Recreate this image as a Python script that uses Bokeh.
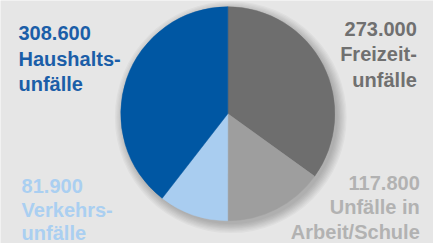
import numpy as np
from bokeh.plotting import figure
from bokeh.models import Range1d, ColumnDataSource
from bokeh.core.properties import value
from bokeh.embed import file_html
from bokeh.resources import INLINE

# data (clockwise from 12 o'clock)
categories = ["Freizeitunfälle", "Unfälle in Arbeit/Schule", "Verkehrsunfälle", "Haushaltsunfälle"]
counts = [273000, 117800, 81900, 308600]
slice_colors = ["#6e6e6e", "#9e9e9e", "#a9cdf0", "#0057a3"]
label_numbers = ["273.000", "117.800", "81.900", "308.600"]
label_line2 = ["Freizeit-", "Unfälle in", "Verkehrs-", "Haushalts-"]
label_line3 = ["unfälle", "Arbeit/Schule", "unfälle", "unfälle"]
label_colors = ["#707070", "#b2b2b2", "#aacff1", "#1b5ea8"]

W, H = 433, 243          # figure pixels
RW, RH = 441, 251        # layout units (reference pixels)
BG = "#e6e6e6"

p = figure(width=W, height=H, output_backend="svg", toolbar_location=None,
           x_range=Range1d(0, RW), y_range=Range1d(0, RH), min_border=0,
           background_fill_color=BG, border_fill_color=BG)
p.axis.visible = False
p.grid.visible = False
p.outline_line_color = None

cx, cy, r = 231.5, RH - 117.0, 109.0

# soft shadow (offset down-right)
for k in range(8):
    p.circle(x=cx + 3.0, y=cy - 3.5, radius=r + k * 1.3, fill_color="black",
             fill_alpha=0.03, line_color=None)

frac = np.array(counts, dtype=float) / sum(counts)
cum = np.concatenate([[0], np.cumsum(frac)])
starts = np.pi / 2 - 2 * np.pi * cum[1:]
ends = np.pi / 2 - 2 * np.pi * cum[:-1]
src = ColumnDataSource(dict(start=starts, end=ends, color=slice_colors, cat=categories))
p.wedge(x=cx, y=cy, radius=r, start_angle="start", end_angle="end",
        fill_color="color", line_color="color", line_width=0.5, source=src)

# label layout (reference-pixel coordinates, y from top)
anchors = [(424, "right", [29, 55.5, 82]),
           (427, "right", [188, 213.5, 239]),
           (21.5, "left", [192, 216.5, 240.5]),
           (18.3, "left", [34, 60, 86])]

for i, (ax, align, bls) in enumerate(anchors):
    lines = [label_numbers[i], label_line2[i], label_line3[i]]
    p.text(x=[ax] * 3, y=[RH - b for b in bls], text=lines,
           text_font=value("Liberation Sans"), text_font_style="bold",
           text_font_size="20px", text_color=label_colors[i],
           text_align=align, text_baseline="alphabetic")

open("out.html", "w").write(file_html(p, INLINE))
